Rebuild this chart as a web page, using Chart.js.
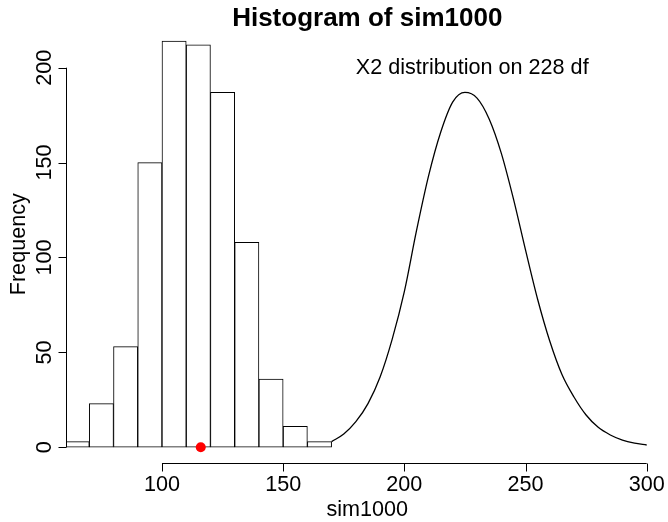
<!DOCTYPE html>
<html lang="en">
  <head>
    <meta charset="UTF-8" />
    <title>Histogram of sim1000</title>
    <script src="https://cdn.jsdelivr.net/npm/chart.js@4.4.1/dist/chart.umd.min.js"></script>
    <style>
      html, body { margin: 0; padding: 0; background: #fff; }
    </style>
  </head>
  <body>
    <canvas id="histChart" width="668" height="522"></canvas>

    <script>
      // histogram bins and counts
      const breaks = [60, 70, 80, 90, 100, 110, 120, 130, 140, 150, 160, 170];
      const counts = [3, 23, 53, 150, 214, 212, 187, 108, 36, 11, 3];

      // X2 curve on 228 df
      const curveX = [170, 175, 180, 185, 190, 195, 200, 205, 210, 215, 220, 225, 230, 235,
                      240, 245, 250, 255, 260, 265, 270, 275, 280, 285, 290, 295, 300];
      const curveY = [3, 7, 13.5, 23, 37, 57, 82, 114, 143, 166, 182, 187, 184, 173,
                      155, 131, 104, 78, 56, 38.5, 26.5, 17, 10.5, 6.5, 3.8, 2.2, 1.2];

      // observed statistic (red dot)
      const observed = [116];

      const xTicks = [100, 150, 200, 250, 300];
      const yTicks = [0, 50, 100, 150, 200];

      const mainTitle = "Histogram of sim1000";
      const xTitle = "sim1000";
      const yTitle = "Frequency";
      const curveLabel = "X2 distribution on 228 df";
      const curveLabelAt = [228, 200];

      const FONT = "'Liberation Sans', Arial, Helvetica, sans-serif";

      const barData = counts.map((c, i) => ({ x: (breaks[i] + breaks[i + 1]) / 2, y: c }));
      const curveData = curveX.map((x, i) => ({ x: x, y: curveY[i] }));
      const obsData = observed.map((x) => ({ x: x, y: 0 }));

      // R style axes, labels, title and text
      const rDecor = {
        id: "rDecor",
        afterDraw(chart) {
          const { ctx, chartArea, scales } = chart;
          const xs = scales.x, ys = scales.y;
          ctx.save();
          ctx.strokeStyle = "#000";
          ctx.lineWidth = 1;
          ctx.beginPath();
          const yb = chartArea.bottom;
          ctx.moveTo(xs.getPixelForValue(xTicks[0]), yb);
          ctx.lineTo(xs.getPixelForValue(xTicks[xTicks.length - 1]), yb);
          xTicks.forEach((t) => {
            const px = Math.round(xs.getPixelForValue(t)) + 0.5;
            ctx.moveTo(px, yb);
            ctx.lineTo(px, yb + 8);
          });
          const xl = chartArea.left;
          ctx.moveTo(xl, ys.getPixelForValue(yTicks[0]));
          ctx.lineTo(xl, ys.getPixelForValue(yTicks[yTicks.length - 1]));
          yTicks.forEach((t) => {
            const py = Math.round(ys.getPixelForValue(t)) + 0.5;
            ctx.moveTo(xl, py);
            ctx.lineTo(xl - 8, py);
          });
          ctx.stroke();

          ctx.fillStyle = "#000";
          ctx.textAlign = "center";
          ctx.textBaseline = "middle";
          ctx.font = "21.6px " + FONT;
          xTicks.forEach((t) => ctx.fillText(String(t), xs.getPixelForValue(t), yb + 22));
          ctx.fillText(xTitle, (chartArea.left + chartArea.right) / 2, yb + 47);
          yTicks.forEach((t) => {
            ctx.save();
            ctx.translate(xl - 21, ys.getPixelForValue(t));
            ctx.rotate(-Math.PI / 2);
            ctx.fillText(String(t), 0, 0);
            ctx.restore();
          });
          ctx.save();
          ctx.translate(19, (chartArea.top + chartArea.bottom) / 2);
          ctx.rotate(-Math.PI / 2);
          ctx.fillText(yTitle, 0, 0);
          ctx.restore();

          ctx.fillText(curveLabel, xs.getPixelForValue(curveLabelAt[0]), ys.getPixelForValue(curveLabelAt[1]));

          ctx.font = "bold 26px " + FONT;
          ctx.fillText(mainTitle, (chartArea.left + chartArea.right) / 2, 19);
          ctx.restore();
        },
      };

      const ctx = document.getElementById("histChart").getContext("2d");
      const chart = new Chart(ctx, {
        type: "bar",
        data: {
          datasets: [
            {
              type: "scatter",
              data: obsData,
              pointRadius: 5,
              pointHoverRadius: 5,
              backgroundColor: "#ff0000",
              borderColor: "#ff0000",
              borderWidth: 0,
              order: 0,
            },
            {
              type: "line",
              data: curveData,
              borderColor: "#000",
              borderWidth: 1.3,
              pointRadius: 0,
              fill: false,
              cubicInterpolationMode: "monotone",
              order: 1,
            },
            {
              type: "bar",
              data: barData,
              backgroundColor: "#ffffff",
              borderColor: "#000",
              borderWidth: 1,
              borderSkipped: false,
              barPercentage: 1,
              categoryPercentage: 1,
              order: 2,
            },
          ],
        },
        options: {
          responsive: false,
          animation: false,
          events: [],
          layout: { autoPadding: false, padding: { top: 25, left: 66.5, right: 0, bottom: 58.5 } },
          plugins: {
            legend: { display: false },
            tooltip: { enabled: false },
            title: { display: false },
          },
          scales: {
            x: {
              type: "linear",
              display: false,
              offset: false,
              grid: { offset: false },
              min: 60.6,
              max: 308.8,
            },
            y: {
              type: "linear",
              display: false,
              min: -8.54,
              max: 222.5,
            },
          },
        },
        plugins: [rDecor],
      });
    </script>
  </body>
</html>
